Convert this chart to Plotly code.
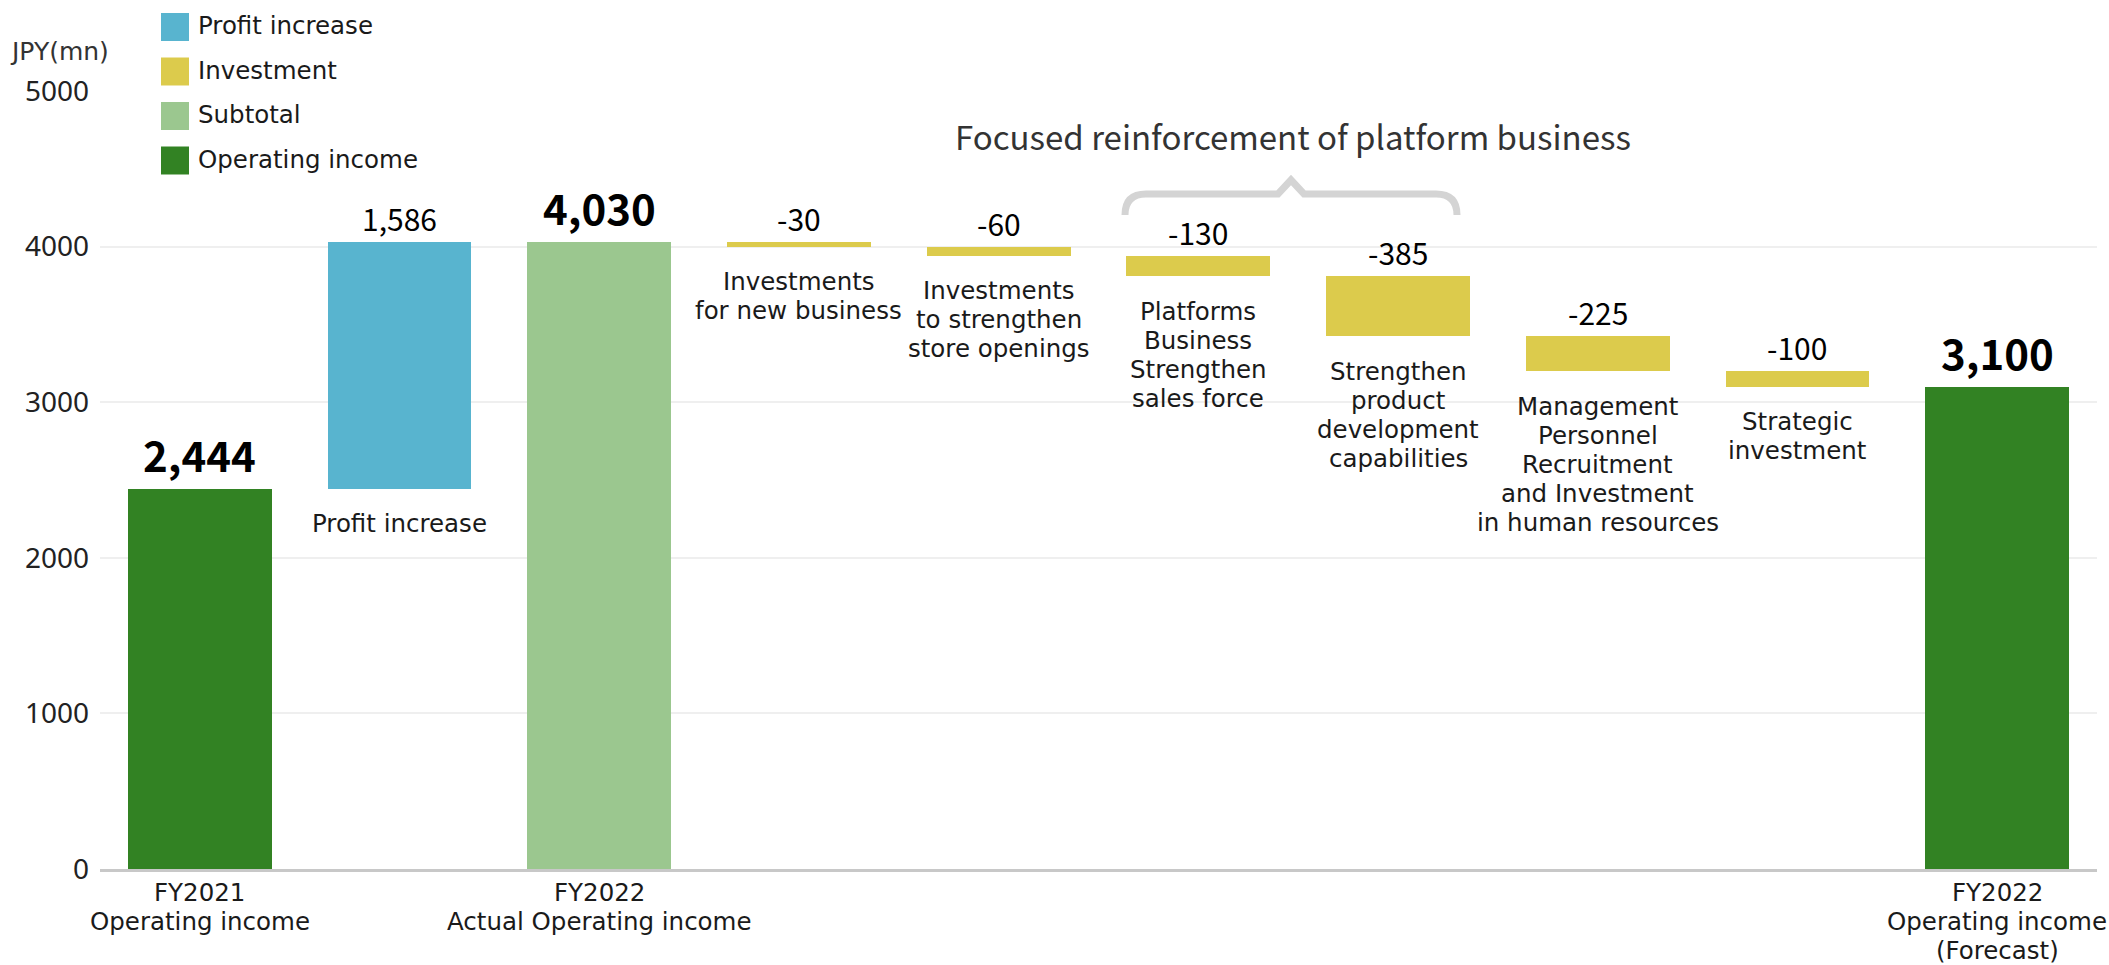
import plotly.graph_objects as go

# ---- data -------------------------------------------------------------
categories = [
    "FY2021<br>Operating income",
    "Profit increase",
    "FY2022<br>Actual Operating income",
    "Investments<br>for new business",
    "Investments<br>to strengthen<br>store openings",
    "Platforms<br>Business<br>Strengthen<br>sales force",
    "Strengthen<br>product<br>development<br>capabilities",
    "Management<br>Personnel<br>Recruitment<br>and Investment<br>in human resources",
    "Strategic<br>investment",
    "FY2022<br>Operating income<br>(Forecast)",
]
values = [2444, 1586, 4030, -30, -60, -130, -385, -225, -100, 3100]
kinds = ["total", "increase", "subtotal", "investment", "investment",
         "investment", "investment", "investment", "investment", "total"]
legend_names = ["Profit increase", "Investment", "Subtotal", "Operating income"]
legend_kinds = ["increase", "investment", "subtotal", "total"]
y_ticks = [0, 1000, 2000, 3000, 4000, 5000]
bracket_title = "Focused reinforcement of platform business"
unit_label = "JPY(mn)"

# ---- styling ----------------------------------------------------------
COLORS = {"total": "#328223", "increase": "#58b4cf",
          "subtotal": "#9bc78f", "investment": "#dccb4c"}
NUM_FONT = "Noto Sans CJK JP"
LABEL_FONT = "DejaVu Sans"
LABEL_SIZE = 24.5
PITCH = 29                                 # line pitch of label stacks (px)
TEXT = "#1a1a1a"
W, H = 2109, 965
L, R, T, B = 100, 2097, 91, 869            # plot area in pixels
PW, PH = R - L, B - T


def px_x(px):
    return (px - L) / PW


def px_y(py):
    return (B - py) / PH


# running totals -> bar bases
bases, running = [], 0
for v, k in zip(values, kinds):
    if k in ("total", "subtotal"):
        bases.append(0)
        running = v
    else:
        bases.append(running)
        running += v

idx = list(range(len(values)))
fig = go.Figure()
for k in ["total", "increase", "subtotal", "investment"]:
    sel = [i for i in idx if kinds[i] == k]
    fig.add_trace(go.Bar(
        x=sel, y=[values[i] for i in sel], base=[bases[i] for i in sel],
        width=0.72, marker=dict(color=COLORS[k], line=dict(width=0)),
        showlegend=False, hoverinfo="skip"))

annotations = []

# value labels above each bar
for i in idx:
    top = max(bases[i], bases[i] + values[i])
    big = kinds[i] in ("total", "subtotal")
    annotations.append(dict(
        x=i, y=top, xref="x", yref="y", text=f"{values[i]:,}",
        showarrow=False, yanchor="bottom", yshift=3 if big else 0,
        font=dict(family=NUM_FONT, size=42 if big else 30, color="#000000",
                  weight=700 if big else 400)))

# descriptions: under floating bars, or along the axis for full bars;
# each line is placed on its own so the stack keeps a tight pitch
for i in idx:
    if kinds[i] in ("total", "subtotal"):
        anchor_y, first = 0, 23
    else:
        anchor_y, first = min(bases[i], bases[i] + values[i]), 35
    for n, line in enumerate(categories[i].split("<br>")):
        annotations.append(dict(
            x=i, y=anchor_y, xref="x", yref="y", text=line,
            showarrow=False, yanchor="middle", yshift=-(first + n * PITCH),
            borderpad=0, borderwidth=0,
            font=dict(family=LABEL_FONT, size=LABEL_SIZE, color=TEXT)))

# bracket caption and unit
annotations.append(dict(
    x=px_x(1293), y=px_y(136), xref="paper", yref="paper",
    text=bracket_title, showarrow=False, xanchor="center", yanchor="middle",
    font=dict(family=NUM_FONT, size=33, color="#333333")))
annotations.append(dict(
    x=px_x(8), y=px_y(52), xref="paper", yref="paper", text=unit_label,
    showarrow=False, xanchor="left", yanchor="middle",
    font=dict(family=LABEL_FONT, size=25, color="#333333")))

shapes = []
# legend swatches and names
for n, (name, k) in enumerate(zip(legend_names, legend_kinds)):
    cy = 27 + n * 44.5
    shapes.append(dict(type="rect", xref="paper", yref="paper",
                       x0=px_x(161), x1=px_x(189),
                       y0=px_y(cy + 14), y1=px_y(cy - 14),
                       fillcolor=COLORS[k], line=dict(width=0)))
    annotations.append(dict(
        x=px_x(196), y=px_y(cy - 1), xref="paper", yref="paper", text=name,
        showarrow=False, xanchor="left", yanchor="middle",
        font=dict(family=LABEL_FONT, size=LABEL_SIZE, color=TEXT)))

# curly bracket over the platform investments
bx = [px_x(p) for p in (1125, 1146, 1278, 1291, 1304, 1436, 1457)]
by_end, by_bar, by_tip = px_y(215), px_y(194), px_y(180)
path = (f"M {bx[0]},{by_end} Q {bx[0]},{by_bar} {bx[1]},{by_bar} "
        f"L {bx[2]},{by_bar} L {bx[3]},{by_tip} L {bx[4]},{by_bar} "
        f"L {bx[5]},{by_bar} Q {bx[6]},{by_bar} {bx[6]},{by_end}")
shapes.append(dict(type="path", xref="paper", yref="paper", path=path,
                   line=dict(color="#d4d4d4", width=7)))

fig.update_layout(
    width=W, height=H,
    margin=dict(l=L, r=W - R, t=T, b=H - B, pad=0),
    paper_bgcolor="white", plot_bgcolor="white",
    bargap=0, showlegend=False,
    annotations=annotations, shapes=shapes,
    xaxis=dict(range=[-0.5, 9.5], showticklabels=False, showgrid=False,
               zeroline=False, showline=True, linecolor="#c8c8c8",
               linewidth=3, fixedrange=True),
    yaxis=dict(range=[0, 5000], tickvals=y_ticks, showgrid=True,
               gridcolor="#efefef", gridwidth=2, zeroline=False,
               showline=False, ticks="", ticklabelstandoff=10,
               tickfont=dict(family="Noto Sans", size=28, color="#222222"),
               fixedrange=True),
)

fig.write_html("out.html", config={"displayModeBar": False})
